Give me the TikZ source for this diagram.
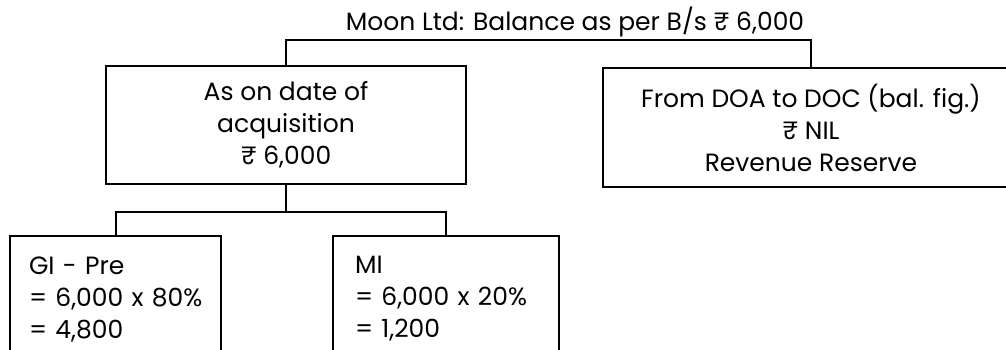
\documentclass[tikz,border=0pt]{standalone}
\usepackage{fontspec}
\setmainfont{Poppins}

\begin{document}
\begin{tikzpicture}[x=1pt,y=-1pt,
  box/.style={draw,line width=2pt,font=\fontsize{25}{32}\selectfont,
    align=center,inner sep=0pt},
  calc/.style={box,align=left,minimum height=126pt}]
  \useasboundingbox (0,0) rectangle (1006,349);
  \clip (0,0) rectangle (1006,349);
  \node[font=\fontsize{25}{32}\selectfont] (t) at (575,22) {Moon Ltd: Balance as per B/s ₹ 6,000};
  \node[box,minimum width=360pt,minimum height=118pt] (a) at (286,125) {As on date of\\acquisition\\₹ 6,000};
  \node[box,minimum width=416pt,minimum height=119pt] (b) at (811,127.5) {From DOA to DOC (bal. fig.)\\₹ NIL\\Revenue Reserve};
  \node[calc,minimum width=211pt,text width=173pt,inner xsep=19pt] (c) at (115.5,299) {\mbox{GI - Pre}\\\mbox{= 6,000 x 80\%}\\\mbox{= 4,800}};
  \node[calc,minimum width=226pt,text width=182pt,inner xsep=22pt] (d) at (446,299) {\mbox{MI}\\\mbox{= 6,000 x 20\%}\\\mbox{= 1,200}};
  \draw[line width=2pt] (a.north) -- ++(0,-25) -| (b.north);
  \draw[line width=2pt] (a.south) -- ++(0,27) coordinate (j);
  \draw[line width=2pt] (c.north) |- (j) -| (d.north);
\end{tikzpicture}
\end{document}
